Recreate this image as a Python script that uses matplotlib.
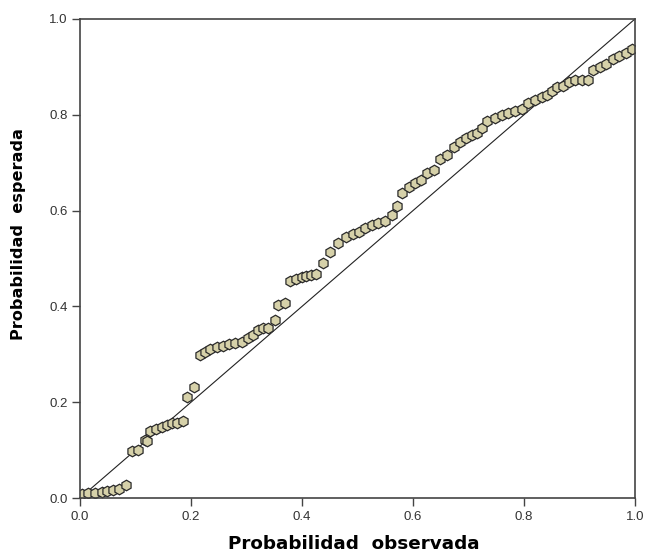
import matplotlib
matplotlib.use("Agg")
import matplotlib.pyplot as plt

prob_obs = [0.003, 0.015, 0.027, 0.039, 0.049, 0.060, 0.071, 0.083,
            0.093, 0.105, 0.117, 0.120,
            0.126, 0.137, 0.147, 0.156, 0.165, 0.174, 0.185,
            0.193, 0.205,
            0.216, 0.225, 0.235, 0.246, 0.258, 0.269, 0.279, 0.291, 0.303,
            0.312, 0.321, 0.330, 0.339, 0.351, 0.357, 0.369,
            0.378, 0.389, 0.400, 0.408, 0.417, 0.426, 0.438,
            0.450, 0.465, 0.480, 0.492, 0.503, 0.514, 0.526, 0.537, 0.550,
            0.562, 0.572, 0.580, 0.592, 0.604, 0.614, 0.625, 0.638, 0.649,
            0.661, 0.673, 0.685, 0.695, 0.706, 0.716,
            0.724, 0.733, 0.748, 0.760, 0.772, 0.784, 0.796, 0.808, 0.820,
            0.832, 0.841, 0.850, 0.860, 0.871, 0.882, 0.892, 0.904, 0.916,
            0.925, 0.937, 0.948, 0.960, 0.972, 0.984, 0.994]
prob_esp = [0.008, 0.010, 0.011, 0.013, 0.015, 0.016, 0.019, 0.027,
            0.099, 0.100, 0.121, 0.120,
            0.140, 0.145, 0.149, 0.152, 0.156, 0.157, 0.161,
            0.211, 0.231,
            0.299, 0.305, 0.312, 0.315, 0.317, 0.322, 0.323, 0.326, 0.333,
            0.340, 0.351, 0.354, 0.354, 0.372, 0.403, 0.408,
            0.452, 0.457, 0.461, 0.463, 0.466, 0.468, 0.490,
            0.514, 0.532, 0.544, 0.551, 0.556, 0.563, 0.570, 0.575, 0.579,
            0.591, 0.610, 0.637, 0.650, 0.657, 0.664, 0.678, 0.685, 0.707,
            0.716, 0.733, 0.744, 0.751, 0.758, 0.763,
            0.772, 0.788, 0.793, 0.800, 0.804, 0.808, 0.812, 0.825, 0.831,
            0.838, 0.842, 0.849, 0.857, 0.860, 0.869, 0.873, 0.873, 0.873,
            0.894, 0.900, 0.907, 0.916, 0.923, 0.930, 0.937]

ticks = [0.0, 0.2, 0.4, 0.6, 0.8, 1.0]

plt.rcParams['font.family'] = ['Liberation Sans', 'DejaVu Sans']

fig = plt.figure(figsize=(6.49, 5.55), dpi=100)
ax = fig.add_axes([0.1233, 0.1027, 0.8551, 0.8631])

# linea de referencia
ax.plot([0, 1], [0, 1], color='#222222', linewidth=0.8, zorder=1)
ax.plot(prob_obs, prob_esp, linestyle='none', marker='h', markersize=7.6,
        markerfacecolor='#d6d1a9', markeredgecolor='#2a2a2a',
        markeredgewidth=0.9, zorder=2)

ax.set_xlim(0, 1)
ax.set_ylim(0, 1)
ax.set_xticks(ticks)
ax.set_yticks(ticks)
ax.set_xticklabels([f'{t:.1f}' for t in ticks])
ax.set_yticklabels([f'{t:.1f}' for t in ticks])
ax.tick_params(direction='out', length=6, width=1, color='#444444',
               labelsize=9.5, labelcolor='#333333', pad=3)
for s in ax.spines.values():
    s.set_color('#444444')
    s.set_linewidth(1.2)

ax.set_xlabel('Probabilidad  observada', family='DejaVu Sans', fontsize=13.2,
              fontweight='bold')
ax.set_ylabel('Probabilidad  esperada', family='DejaVu Sans', fontsize=11.6,
              fontweight='bold')
ax.xaxis.set_label_coords(0.494, -0.078)
ax.yaxis.set_label_coords(-0.098, 0.551)

fig.savefig('out.png', dpi=100)
